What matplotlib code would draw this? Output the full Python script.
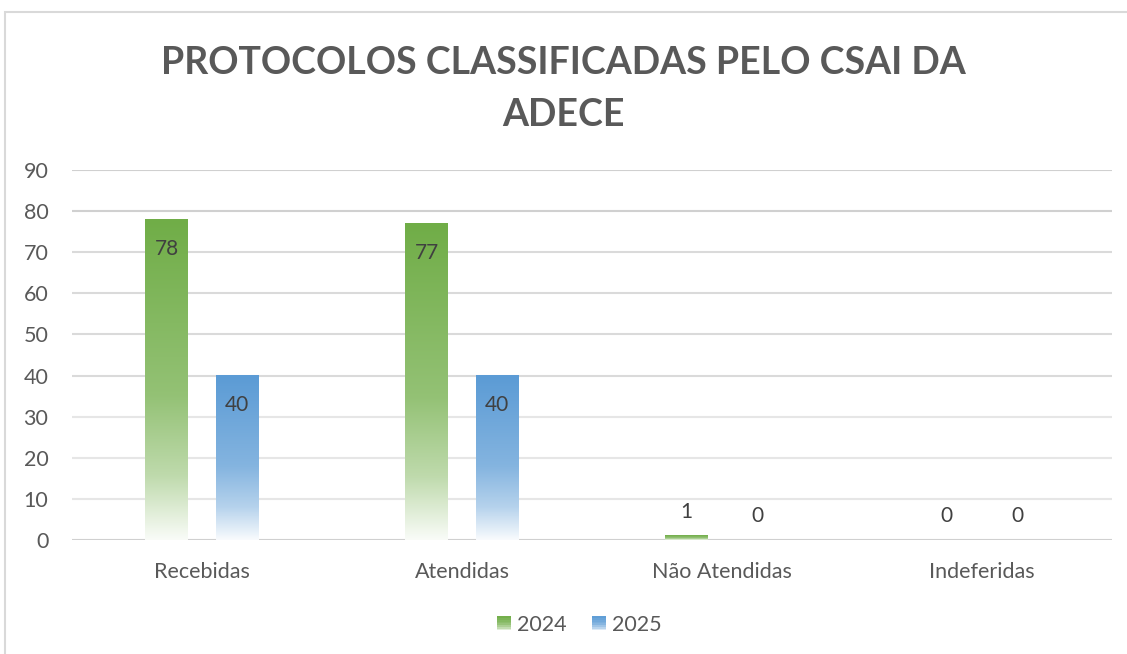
import numpy as np
import matplotlib
matplotlib.use("Agg")
import matplotlib.pyplot as plt
from matplotlib.patches import Rectangle, Patch
from matplotlib.legend_handler import HandlerBase
from matplotlib.colors import to_rgb

categories = ["Recebidas", "Atendidas", "Não Atendidas", "Indeferidas"]
series_names = ["2024", "2025"]
values_2024 = [78, 77, 1, 0]
values_2025 = [40, 40, 0, 0]

colors = ["#70AD47", "#5B9BD5"]
text_color = "#595959"
label_color = "#404040"
grid_color = "#D9D9D9"

plt.rcParams['font.family'] = ['Lato', 'DejaVu Sans']


def gradient_rgba(color, n=200):
    # fraction of bar height from bottom (0) to top (1)
    f = np.linspace(0, 1, n)
    stops_f = [0.0, 0.2, 0.45, 1.0]
    stops_t = [0.04, 0.45, 0.75, 1.0]
    t = np.interp(f, stops_f, stops_t)
    c = np.array(to_rgb(color))
    rgb = t[:, None] * c[None, :] + (1 - t[:, None]) * 1.0
    img = np.ones((n, 1, 4))
    img[:, 0, :3] = rgb
    return img


class GradientHandler(HandlerBase):
    def create_artists(self, legend, orig_handle, xdescent, ydescent,
                       width, height, fontsize, trans):
        color = orig_handle.get_facecolor()
        size = height
        x0 = xdescent + width - size
        arts = []
        n = 8
        for k in range(n):
            f = (k + 0.5) / n
            t = np.interp(f, [0, 0.2, 0.45, 1], [0.1, 0.45, 0.75, 1.0])
            c = np.array(color[:3])
            rgb = t * c + (1 - t)
            r = Rectangle((x0, -ydescent + size * k / n), size, size / n + 0.3,
                          facecolor=rgb, edgecolor="none", transform=trans)
            arts.append(r)
        return arts


fig = plt.figure(figsize=(11.27, 6.54), dpi=100)
ax = fig.add_axes([72 / 1127, 114 / 654, (1112 - 72) / 1127, 370 / 654])

fig.patches.append(Rectangle((5 / 1127, -0.1), 1.2, (654 - 12) / 654 + 0.1,
                             transform=fig.transFigure, facecolor="none",
                             edgecolor=grid_color, linewidth=1.5))

x = np.arange(len(categories))
width = 0.163
offset = 0.136

for vals, col, off in [(values_2024, colors[0], -offset), (values_2025, colors[1], offset)]:
    bars = ax.bar(x + off, vals, width, color="none", edgecolor="none", zorder=2)
    img = gradient_rgba(col)
    for b, v in zip(bars, vals):
        if v > 0:
            ax.imshow(img, extent=[b.get_x(), b.get_x() + b.get_width(), 0, v],
                      origin="lower", aspect="auto", zorder=2, interpolation="bilinear")
        if v >= 10:
            ax.text(b.get_x() + b.get_width() / 2, v - 4.7, str(v), ha="center", va="top",
                    fontsize=15, color=label_color, zorder=3)
        else:
            ax.text(b.get_x() + b.get_width() / 2, v + 5.8, str(v), ha="center", va="center",
                    fontsize=15, color=label_color, zorder=3)

ax.set_xlim(-0.5, 3.5)
ax.set_ylim(0, 90)
ax.set_yticks(range(0, 91, 10))
ax.set_xticks(x)
ax.set_xticklabels(categories)
ax.tick_params(axis="both", length=0, labelsize=15.5, colors=text_color)
ax.tick_params(axis="x", pad=16)
ax.tick_params(axis="y", pad=17)
for yt in ax.get_yticks():
    shade = "#D0D0D0" if yt in (0, 80, 90) else ("#DADADA" if yt >= 40 else "#E6E6E6")
    ax.axhline(yt, color=shade, linewidth=1.5, zorder=0)
for s in ax.spines.values():
    s.set_visible(False)

fig.text(0.5, 1 - 89 / 654, "PROTOCOLOS CLASSIFICADAS PELO CSAI DA\nADECE", ha="center", va="center",
         fontsize=27, fontweight="bold", color=text_color, linespacing=1.62)

handles = [Patch(facecolor=colors[0]), Patch(facecolor=colors[1])]
fig.legend(handles, series_names, loc="center", bbox_to_anchor=(580 / 1127, 1 - 625 / 654),
           ncol=2, frameon=False, fontsize=15.5, labelcolor=text_color,
           handler_map={Patch: GradientHandler()}, handlelength=0.6, handleheight=0.6,
           handletextpad=0.3, columnspacing=1.2)

fig.savefig("out.png", dpi=100)
